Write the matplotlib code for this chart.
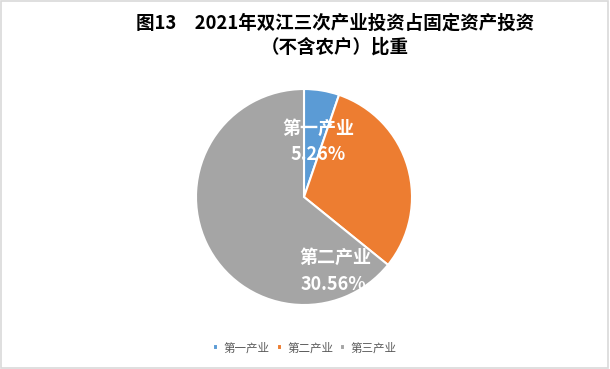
import matplotlib.pyplot as plt
from matplotlib.patches import Rectangle

plt.rcParams['font.family'] = ['Noto Sans CJK SC', 'DejaVu Sans']

# 数据
title = '图13\u30002021年双江三次产业投资占固定资产投资\n（不含农户）比重'
sectors = ['第一产业', '第二产业', '第三产业']
shares = [5.26, 30.56, 64.18]
colors = ['#5B9BD5', '#ED7D31', '#A5A5A5']

# 标签位置（饼图半径单位），第三产业标签在图外只露出一点
name_pos = [(0.13, 0.64), (0.29, -0.56), (-0.12, -1.11)]
pct_pos = [(0.13, 0.39), (0.27, -0.81), None]

fig = plt.figure(figsize=(6.1, 3.69), dpi=100)

# 外框
fig.patches.append(Rectangle((0.002, 0.004), 0.994, 0.994, transform=fig.transFigure,
                             fill=False, edgecolor='#d9d9d9', linewidth=1.2))

fig.text(0.549, 1 - 35 / 369, title, ha='center', va='center', fontsize=13.3,
         fontweight='heavy', color='black', linespacing=1.28)

ax = fig.add_axes([196 / 610, 1 - 305 / 369, 216 / 610, 216 / 369])
wedges, _ = ax.pie(shares, colors=colors, startangle=90, counterclock=False, radius=1,
                   wedgeprops={'edgecolor': 'white', 'linewidth': 1.5})
ax.set_xlim(-1, 1)
ax.set_ylim(-1, 1)
ax.set_aspect('auto')
ax.axis('off')

for name, val, npos, ppos in zip(sectors, shares, name_pos, pct_pos):
    ax.text(npos[0], npos[1], name, ha='center', va='center', fontsize=13, color='white',
            fontweight='bold', clip_on=True)
    if ppos is not None:
        ax.text(ppos[0], ppos[1], f'{val:.2f}%', ha='center', va='center', fontsize=13,
                color='white', fontweight='bold', clip_on=True)

fig.legend(wedges, sectors, loc='center', bbox_to_anchor=(0.5, 1 - 348 / 369), ncol=3,
           frameon=False, fontsize=8.3, labelcolor='#595959', handlelength=0.42,
           handleheight=0.42, handletextpad=0.5, columnspacing=0.6)

plt.savefig('out.png', dpi=100)
